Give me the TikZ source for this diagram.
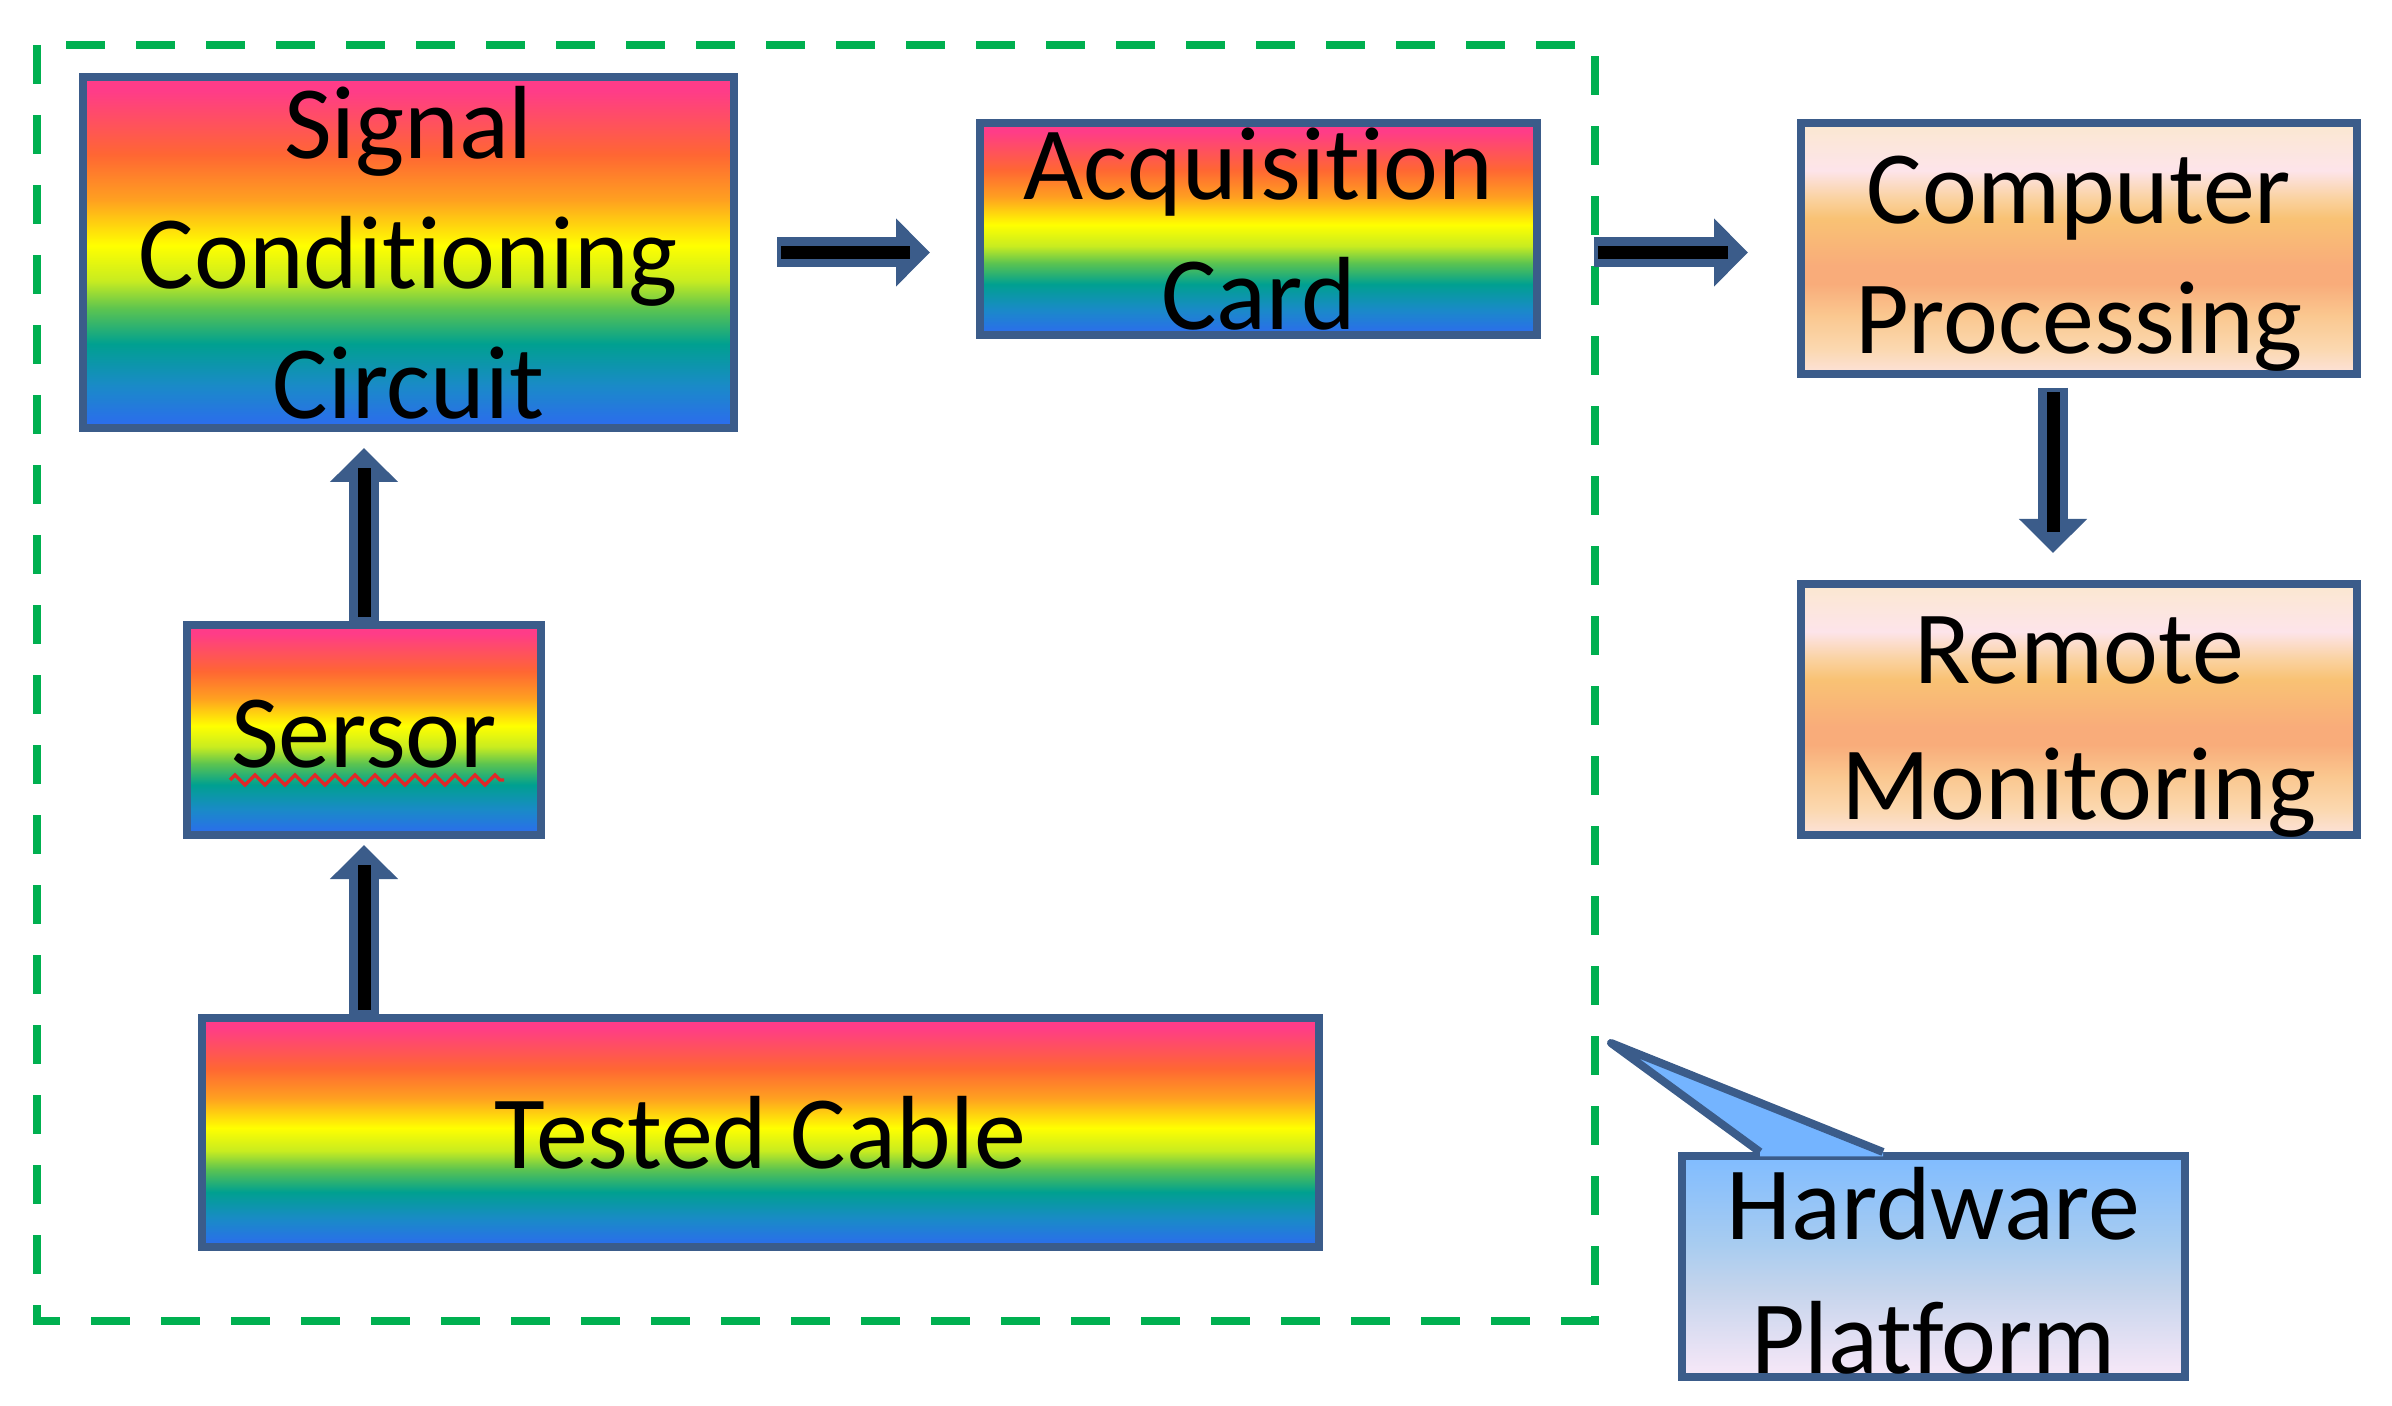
\documentclass[tikz,border=0pt]{standalone}
\usepackage{fontspec}
\setmainfont{Carlito}[RawFeature={-liga;-clig;-dlig}]
\usetikzlibrary{arrows.meta,decorations.pathmorphing}

\definecolor{bord}{HTML}{3B5C8A}
\definecolor{framegreen}{HTML}{00B050}
\definecolor{rbBlue}{HTML}{2D6AF0}
\definecolor{rbSky}{HTML}{1A8AC8}
\definecolor{rbTeal}{HTML}{00A090}
\definecolor{rbGreen}{HTML}{5CC450}
\definecolor{rbLime}{HTML}{C8EC20}
\definecolor{rbYellow}{HTML}{FFFF00}
\definecolor{rbOrange}{HTML}{FFA020}
\definecolor{rbRed}{HTML}{FF6633}
\definecolor{rbPink}{HTML}{FF3C88}
\definecolor{pcCream}{HTML}{FBE8D0}
\definecolor{pcPinkW}{HTML}{FDE4EA}
\definecolor{pcLight}{HTML}{FAD2A0}
\definecolor{pcOrange}{HTML}{F9C274}
\definecolor{pcSalmon}{HTML}{F9AC7A}
\definecolor{pcMid}{HTML}{FAC890}
\definecolor{pcLow}{HTML}{FBD8B0}
\definecolor{pcBottom}{HTML}{FCE2DA}
\definecolor{hpTop}{HTML}{80BCFF}
\definecolor{hpMid}{HTML}{A8CCF0}
\definecolor{hpMid2}{HTML}{C4D4EC}
\definecolor{hpBottom}{HTML}{F8E8F8}
\definecolor{callblue}{HTML}{74B4FF}
\definecolor{squiggle}{HTML}{E02828}

\pgfdeclareverticalshading{rainbow}{100bp}{color(0bp)=(rbBlue); color(25bp)=(rbBlue); color(31bp)=(rbSky); color(37bp)=(rbTeal); color(42bp)=(rbGreen); color(46bp)=(rbLime); color(51bp)=(rbYellow); color(57.5bp)=(rbOrange); color(64bp)=(rbRed); color(73bp)=(rbPink); color(100bp)=(rbPink)}
\pgfdeclareverticalshading{peach}{100bp}{color(0bp)=(pcBottom); color(25bp)=(pcBottom); color(30bp)=(pcLow); color(36.5bp)=(pcMid); color(43bp)=(pcSalmon); color(46.5bp)=(pcSalmon); color(56bp)=(pcOrange); color(60bp)=(pcLight); color(65.5bp)=(pcPinkW); color(75bp)=(pcCream); color(100bp)=(pcCream)}
\pgfdeclareverticalshading{hpshade}{100bp}{color(0bp)=(hpBottom); color(25bp)=(hpBottom); color(45bp)=(hpMid2); color(55bp)=(hpMid); color(75bp)=(hpTop); color(100bp)=(hpTop)}

\begin{document}
\begin{tikzpicture}[x=0.5pt,y=-0.5pt,
  font=\fontsize{52pt}{65pt}\selectfont,
  box/.style={draw=bord, line width=4pt, inner sep=0pt, align=center, text=black},
  rbox/.style={box, shading=rainbow},
  pbox/.style={box, shading=peach},
  hbox/.style={box, shading=hpshade},
  lbl/.style={inner sep=0pt, align=center, text=black},
  arrout/.style={draw=bord, line width=15pt, -{Triangle[length=17pt,width=33pt]}},
  arrin/.style={draw=black, line width=6.5pt},
  frame/.style={draw=framegreen, line width=4pt, dash pattern=on 19.5pt off 15.5pt}]
\useasboundingbox (0,0) rectangle (2392,1406);

% hardware platform frame
\coordinate (frameNW) at (37,45);
\coordinate (frameSE) at (1595,1321);
\draw[frame] (frameNW) rectangle (frameSE);

% boxes
\node[rbox, minimum width=325.5pt, minimum height=175.5pt] (sig) at (408.5,252.5) {Signal\\Conditioning\\Circuit};
\node[rbox, minimum width=278.5pt, minimum height=106pt] (acq) at (1258.5,229) {Acquisition\\Card};
\node[pbox, minimum width=278pt, minimum height=125.5pt] (comp) at (2079,248.5) {};
\node[lbl] (compT) at ([yshift=-7.5pt]comp.center) {Computer\\Processing};
\node[pbox, minimum width=278pt, minimum height=125.5pt] (remote) at (2079,709.5) {};
\node[lbl, font=\fontsize{52pt}{68pt}\selectfont] (remoteT) at ([yshift=-9pt]remote.center) {Remote\\Monitoring};
\node[rbox, minimum width=177pt, minimum height=105pt] (sensor) at (364,730) {};
\node[lbl] (sensorT) at ([yshift=-2pt]sensor.center) {Sersor};
\node[rbox, minimum width=558.5pt, minimum height=114.5pt] (cable) at (760.5,1132.5) {Tested Cable};

% spell-check squiggle under "Sersor"
\coordinate (sqA) at ([xshift=-67pt,yshift=-25pt]sensor.center);
\coordinate (sqB) at ([xshift=70pt,yshift=-25pt]sensor.center);
\draw[squiggle, line width=1.6pt, decorate, decoration={zigzag, segment length=10pt, amplitude=2.5pt}] (sqA) -- (sqB);

% callout
\node[hbox, minimum width=251.5pt, minimum height=110.5pt] (hp) at (1933.5,1266.5) {};
\node[lbl, font=\fontsize{52pt}{67pt}\selectfont] (hpT) at ([yshift=-2pt]hp.center) {Hardware\\Platform};
\coordinate (tip) at (1611,1043);
\coordinate (baseL) at ([xshift=41pt]hp.north west);
\coordinate (baseR) at ([xshift=102.5pt]hp.north west);
\fill[callblue] (baseL) -- (tip) -- (baseR) -- ([yshift=-2.2pt]baseR) -- ([yshift=-2.2pt]baseL) -- cycle;
\draw[bord, line width=4pt, line join=round] (baseL) -- (tip) -- (baseR);

% connectors
\draw[arrout, shorten <=19.5pt, shorten >=23pt] (sig.east) -- (sig.east -| acq.west);
\draw[arrin, shorten <=21.5pt, shorten >=33pt] (sig.east) -- (sig.east -| acq.west);

\draw[arrout, shorten <=26.5pt, shorten >=24.5pt] (sig.east -| acq.east) -- (sig.east -| comp.west);
\draw[arrin, shorten <=28.5pt, shorten >=34.5pt] (sig.east -| acq.east) -- (sig.east -| comp.west);

\draw[arrout, shorten <=5pt, shorten >=13.5pt] ([xshift=-13pt]comp.south) -- ([xshift=-13pt]remote.north);
\draw[arrin, shorten <=7pt, shorten >=24pt] ([xshift=-13pt]comp.south) -- ([xshift=-13pt]remote.north);

\draw[arrout, shorten >=8pt] (sensor.north) -- (sensor.north |- sig.south);
\draw[arrin, shorten <=2pt, shorten >=18pt] (sensor.north) -- (sensor.north |- sig.south);

\draw[arrout, shorten >=3pt] (sensor.south |- cable.north) -- (sensor.south);
\draw[arrin, shorten <=2pt, shorten >=13pt] (sensor.south |- cable.north) -- (sensor.south);
\end{tikzpicture}
\end{document}
